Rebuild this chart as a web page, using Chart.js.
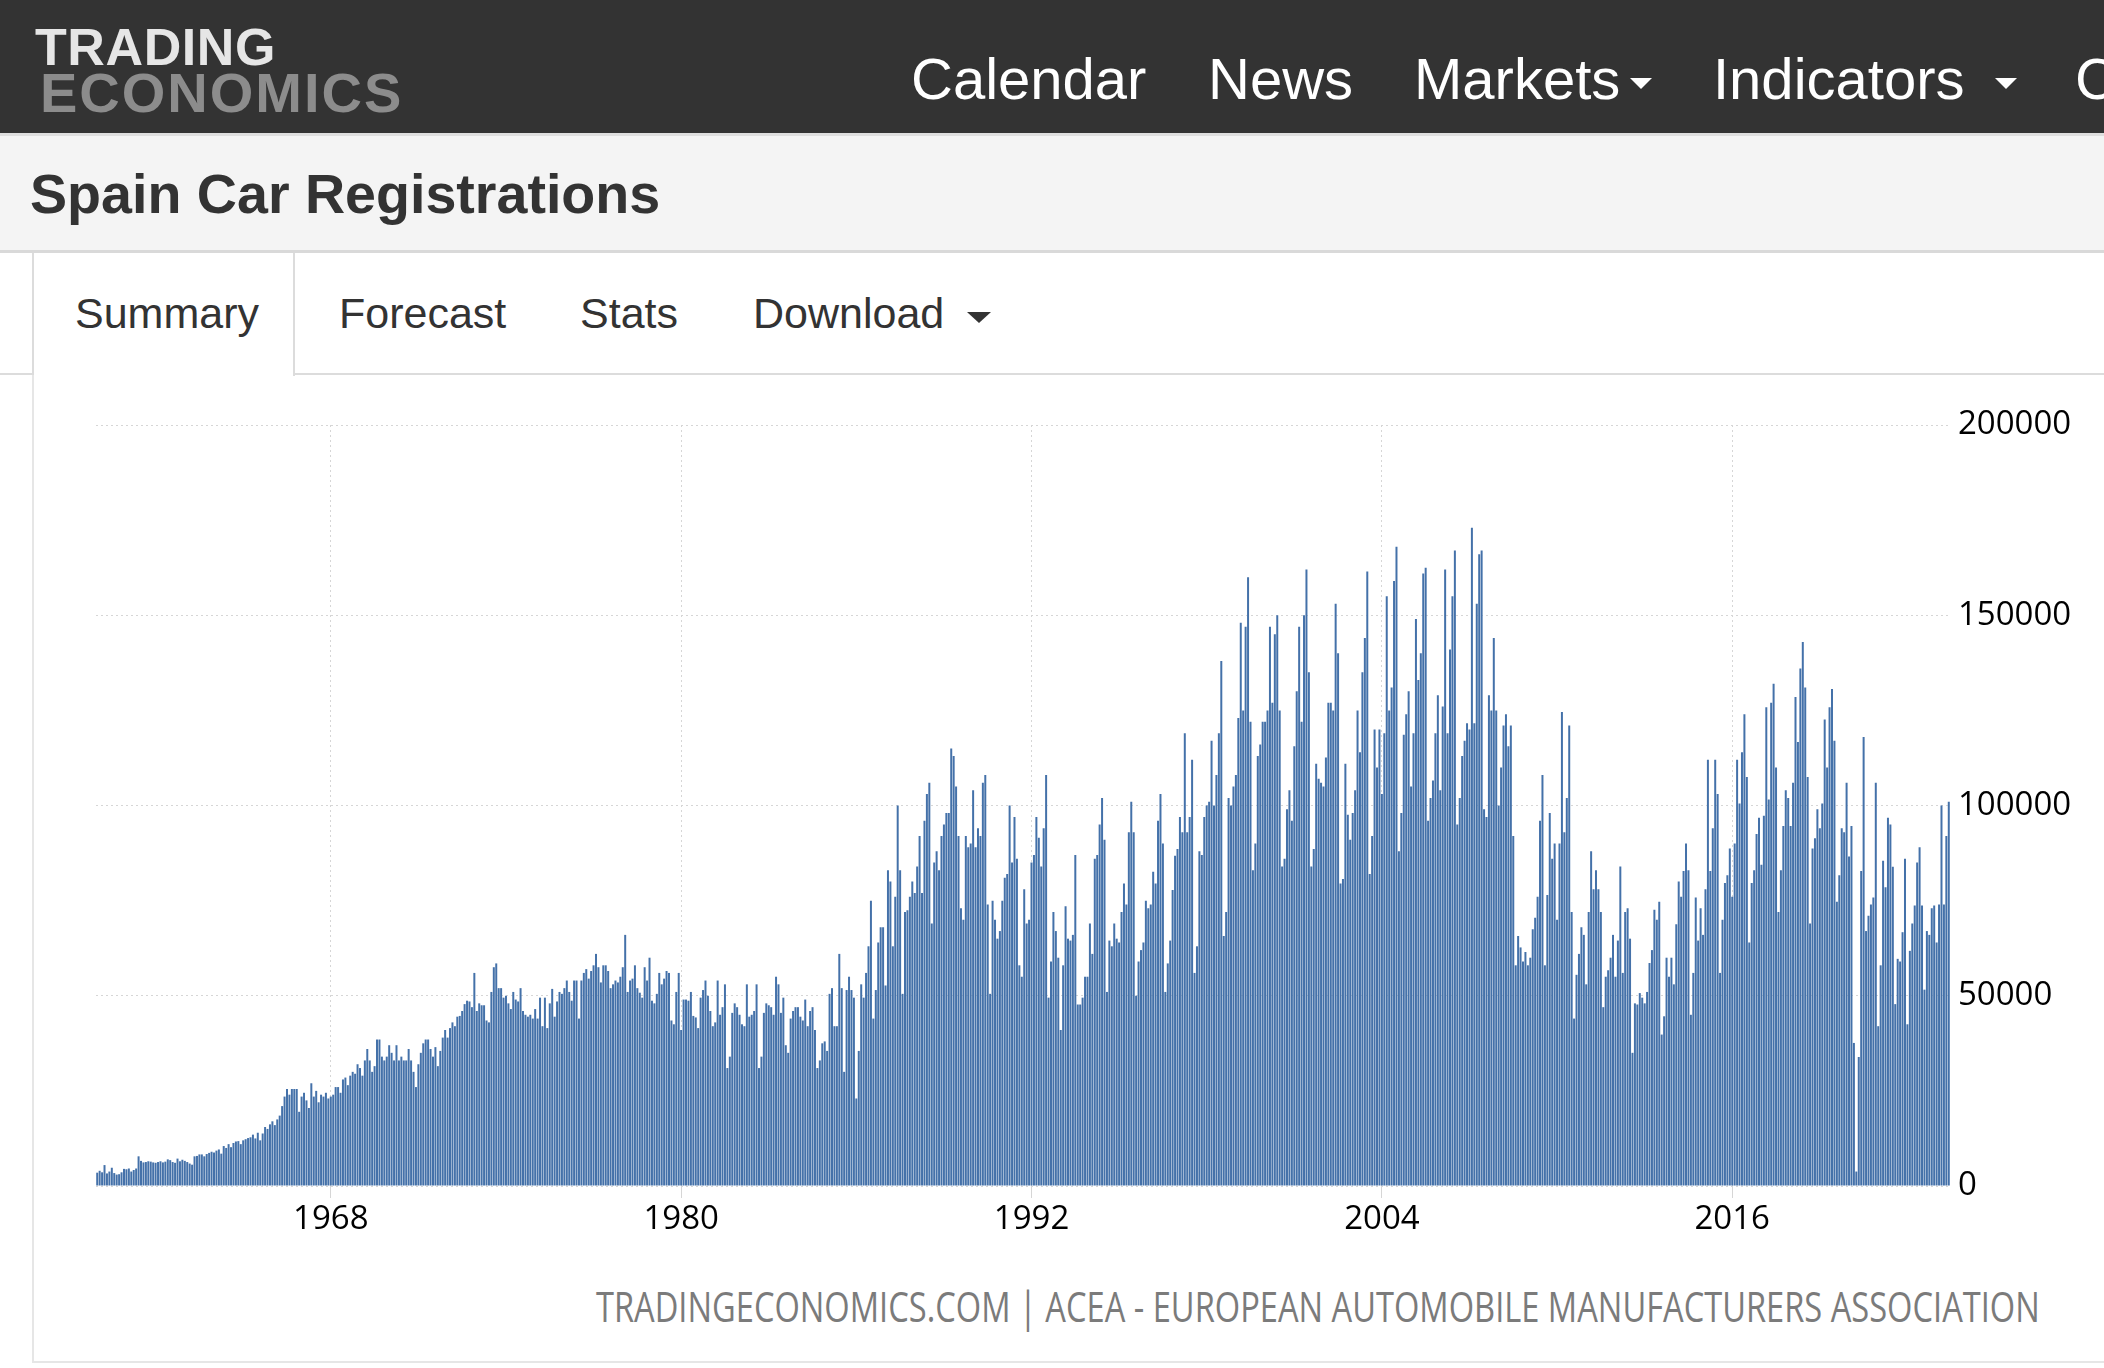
<!DOCTYPE html>
<html>
<head>
<meta charset="utf-8">
<title>Spain Car Registrations</title>
<script src="https://cdn.jsdelivr.net/npm/chart.js@4.4.1/dist/chart.umd.min.js"></script>
<style>
  html, body { margin: 0; padding: 0; }
  body { width: 2104px; height: 1368px; overflow: hidden; background: #fff; position: relative;
         font-family: "Liberation Sans", Arial, Helvetica, sans-serif; }
  .abs { position: absolute; line-height: 1; white-space: nowrap; }
  #nav { position: absolute; left: 0; top: 0; width: 2104px; height: 133px; background: #333; }
  #band { position: absolute; left: 0; top: 133px; width: 2104px; background: #f4f4f4;
          border-top: 3px solid #dedede; border-bottom: 3px solid #d9d9d9; box-sizing: border-box; height: 120px; }
  .logo1 { left: 35px; top: 21px; font-size: 52px; font-weight: bold; color: #e6e6e6; letter-spacing: 0.6px; }
  .logo2 { left: 40px; top: 65px; font-size: 56px; font-weight: bold; color: #8c8c8c; letter-spacing: 2px; }
  .navitem { top: 50px; font-size: 58px; color: #fff; }
  .caret { position: absolute; width: 0; height: 0; border-left: 11px solid transparent;
           border-right: 11px solid transparent; border-top: 11px solid #fff; }
  .title { left: 30px; top: 167px; font-size: 55.6px; font-weight: bold; color: #333; }
  #tabline { position: absolute; left: 0; top: 373px; width: 2104px; height: 2px; background: #dcdcdc; }
  #tab { position: absolute; left: 32px; top: 253px; width: 263px; height: 123px; background: #fff;
         border-left: 2px solid #dcdcdc; border-right: 2px solid #dcdcdc; box-sizing: border-box; }
  .tabtxt { top: 292px; font-size: 43px; color: #333; }
  #panel { position: absolute; left: 32px; top: 375px; width: 2072px; height: 988px;
           border-left: 2px solid #e6e6e6; border-bottom: 2px solid #e6e6e6; box-sizing: border-box; }
  #chartBox { position: absolute; left: 40px; top: 384px; width: 2064px; height: 880px; }
  #source { position: absolute; right: 64px; top: 1285px; font-family: "Open Sans", sans-serif; font-size: 42px;
            line-height: 1; color: #7b7b7b; white-space: nowrap; transform-origin: right top; }
</style>
</head>
<body>
<div id="nav"></div>
<div class="abs logo1">TRADING</div>
<div class="abs logo2">ECONOMICS</div>
<div class="abs navitem" style="left:911px">Calendar</div>
<div class="abs navitem" style="left:1208px">News</div>
<div class="abs navitem" style="left:1414px">Markets</div>
<div class="caret" style="left:1630px; top:78px"></div>
<div class="abs navitem" style="left:1713px">Indicators</div>
<div class="caret" style="left:1995px; top:78px"></div>
<div class="abs navitem" style="left:2075px">Countries</div>

<div id="band"></div>
<div class="abs title">Spain Car Registrations</div>

<div id="tabline"></div>
<div id="tab"></div>
<div class="abs tabtxt" style="left:75px">Summary</div>
<div class="abs tabtxt" style="left:339px">Forecast</div>
<div class="abs tabtxt" style="left:580px">Stats</div>
<div class="abs tabtxt" style="left:753px">Download</div>
<div class="caret" style="left:967px; top:312px; border-top-color:#333; border-left-width:12px; border-right-width:12px"></div>

<div id="panel"></div>
<div id="chartBox"><canvas id="regChart" width="2064" height="880"></canvas></div>
<div id="source">TRADINGECONOMICS.COM | ACEA - EUROPEAN AUTOMOBILE MANUFACTURERS ASSOCIATION</div>

<script>
// monthly car registrations, Jan 1960 .. Jun 2023 (one line per year)
var startYear = 1960
var regs1960s = [
    3500, 4000, 3600, 5500, 3300, 3800, 4800, 3400, 3000, 3100, 3600, 4500,
    4400, 4600, 3800, 4200, 4600, 7800, 6600, 6200, 6300, 6500, 6400, 6200,
    6100, 6300, 6500, 6200, 6400, 7000, 6800, 6300, 6100, 7200, 6500, 6900,
    6600, 6300, 5900, 5600, 7800, 7900, 8300, 8300, 7800, 8400, 8700, 9000,
    8800, 9300, 9600, 8500, 10500, 10000, 11000, 10200, 11300, 11700, 11800, 11000,
    12000, 12300, 12600, 12800, 13500, 12500, 14000, 12000, 13800, 15500, 15000, 16200,
    17000, 16000, 17500, 18500, 21000, 23500, 25500, 24000, 25500, 25500, 25500, 19500,
    23500, 24500, 22500, 20500, 27000, 23500, 25000, 22000, 24000, 23500, 24500, 23000,
    23500, 24000, 26000, 26000, 24500, 28000, 28500, 26500, 29000, 30000, 29500, 32000,
    31000, 29000, 33000, 36000, 33000, 30000, 31500, 38500, 38500, 34000, 33000, 34000
]
var regs1970s = [
    37000, 35000, 33000, 37000, 33000, 34000, 33000, 33000, 36000, 33000, 30000, 26000,
    32000, 35000, 37500, 38500, 38500, 36000, 34000, 36500, 31500, 35500, 39000, 41000,
    39000, 41500, 43000, 42000, 44500, 44700, 46000, 47800, 48700, 48500, 47000, 56000,
    46000, 48000, 47500, 47500, 43500, 43000, 51000, 57500, 58500, 52000, 52000, 49500,
    50000, 48000, 46500, 51000, 49000, 48500, 52000, 46000, 45000, 44500, 45000, 44000,
    46500, 44000, 49500, 42000, 49500, 41500, 48000, 51800, 44500, 48500, 51000, 50500,
    52000, 54000, 51000, 48700, 54000, 54000, 44000, 54000, 56000, 57000, 54500, 56500,
    58000, 61000, 57500, 53500, 58000, 58000, 56500, 52000, 53000, 54000, 53500, 55000,
    57500, 66000, 51000, 54000, 54500, 58000, 52000, 50800, 49500, 57500, 54000, 60000,
    48700, 48000, 50500, 56000, 53000, 54500, 56500, 56000, 43500, 42500, 51000, 56000
]
var regs1980s = [
    41000, 49000, 49000, 48700, 51000, 44700, 44300, 41500, 49500, 51500, 54000, 50000,
    46000, 42000, 43000, 54000, 45000, 47000, 53000, 31000, 34000, 45500, 48000, 47000,
    45000, 42500, 42000, 53000, 44500, 45000, 46000, 53000, 31000, 34000, 45500, 48000,
    47500, 47000, 45000, 55000, 53000, 45500, 49500, 37000, 35000, 44000, 46000, 47000,
    47000, 44500, 43500, 49000, 42000, 46000, 47000, 41000, 31000, 33000, 37500, 38000,
    35500, 50500, 52000, 42000, 42000, 61000, 52000, 30000, 51500, 55000, 51500, 49500,
    23000, 35500, 53000, 49500, 56000, 63000, 75000, 44000, 51500, 64000, 68000, 68000,
    52700, 83000, 80000, 63000, 76000, 100000, 83000, 50500, 72000, 72500, 76000, 80000,
    77000, 84000, 92000, 77000, 96000, 103000, 106000, 69000, 85000, 88000, 83000, 92000,
    95000, 98000, 98000, 115000, 113000, 105000, 92000, 73000, 70000, 92000, 89000, 90000
]
var regs1990s = [
    104000, 89000, 94000, 92000, 106000, 108000, 74000, 50500, 75000, 70000, 65000, 67000,
    75000, 81000, 82000, 100000, 85000, 97000, 86000, 58000, 55000, 78000, 69000, 70000,
    85000, 87000, 97000, 91500, 84000, 94000, 108000, 49500, 59000, 72000, 67000, 60000,
    41000, 58000, 73500, 65000, 64500, 66000, 87000, 47700, 47700, 49500, 55000, 55000,
    69000, 61000, 86000, 87000, 95000, 102000, 91000, 51000, 64500, 63000, 69000, 65000,
    64000, 72000, 79500, 74000, 93000, 101000, 93000, 50000, 59000, 62000, 64000, 75000,
    73000, 74000, 82600, 79500, 96000, 103000, 90000, 51000, 58500, 64500, 77800, 86800,
    88600, 97000, 93000, 119000, 93000, 97000, 112000, 56000, 63000, 88000, 87000, 97000,
    100000, 101000, 117000, 100000, 108000, 119000, 138000, 65700, 72000, 102000, 100000, 105000,
    108000, 123000, 148000, 125000, 147000, 160000, 122000, 83000, 90000, 113000, 116000, 122000
]
var regs2000s = [
    122000, 125000, 147000, 127000, 145000, 150000, 125000, 84000, 86000, 99000, 104000, 96000,
    115600, 130000, 147000, 122000, 150000, 162000, 135000, 84000, 88600, 111000, 107000, 106000,
    105000, 112600, 127000, 127000, 125000, 153000, 140000, 79500, 80700, 111000, 97600, 91000,
    98000, 104000, 125000, 114000, 135000, 144000, 161500, 82000, 92000, 120000, 110000, 120000,
    103000, 119000, 155000, 125000, 131000, 159000, 168000, 88000, 98000, 118600, 124000, 130000,
    105000, 119000, 149000, 133000, 140000, 161000, 162500, 96000, 102000, 106600, 119000, 129000,
    104000, 126000, 162000, 119000, 141000, 155000, 167000, 95000, 102000, 113000, 117000, 121600,
    120000, 173000, 121600, 153000, 166000, 167000, 99000, 97000, 129000, 125000, 144000, 125000,
    100000, 110000, 121000, 124000, 115600, 121000, 92000, 58000, 65700, 62700, 59000, 61500,
    58000, 60000, 67500, 70500, 76000, 96000, 108000, 58000, 76500, 98000, 86000, 90000
]
var regs2010s = [
    70000, 90000, 124600, 93000, 102000, 121000, 72000, 44000, 55500, 61000, 68000, 66000,
    53000, 72000, 88000, 78000, 83000, 78000, 72000, 47000, 55000, 56700, 60000, 66000,
    55000, 64500, 84000, 56000, 72000, 73000, 65000, 35000, 48000, 47700, 50700, 49500,
    48000, 51000, 58600, 62000, 72600, 70000, 74700, 39800, 44600, 60000, 55000, 60000,
    53000, 68800, 80000, 76000, 82800, 90000, 83000, 45000, 56000, 75800, 64500, 73000,
    66000, 78000, 112000, 82800, 94000, 112000, 103000, 56000, 70000, 79600, 81700, 88700,
    76000, 90000, 112000, 100500, 114000, 124000, 107500, 64000, 79600, 83000, 92500, 96800,
    84400, 97300, 125800, 101600, 127000, 132000, 110000, 72000, 83000, 94600, 104000, 102000,
    94600, 106000, 128500, 116700, 136000, 143000, 131000, 107500, 69000, 88700, 91400, 99000,
    94000, 100500, 122600, 110000, 125800, 130600, 117000, 74700, 81700, 94000, 93000, 106000
]
var regs2020s = [
    86600, 94600, 37600, 3800, 33900, 82800, 118000, 67000, 71000, 74000, 75800, 106000,
    42000, 58000, 85500, 78500, 96800, 95000, 83900, 47800, 59700, 59000, 66700, 86000,
    42500, 61800, 69000, 73700, 85000, 89000, 73700, 51600, 67000, 66000, 73000, 73700,
    64000, 74000, 100000, 74000, 92000, 101000
]
var tickYears = [1968, 1980, 1992, 2004, 2016]
var yTicks = [0, 50000, 100000, 150000, 200000]

var regs = [].concat(regs1960s, regs1970s, regs1980s, regs1990s, regs2000s, regs2010s, regs2020s)
var labels = []
regs.forEach(function (v, i) {
    var yr = startYear + Math.floor(i / 12)
    labels.push(yr + "-" + (i % 12 + 1))
})

var tickFont = { family: "Open Sans", size: 33 }

window.regChart = new Chart(document.getElementById("regChart").getContext("2d"), {
    type: "bar",
    data: {
        labels: labels,
        datasets: [{
            label: "Car Registrations",
            data: regs,
            backgroundColor: "#4471a9",
            borderWidth: 0,
            barPercentage: 0.82,
            categoryPercentage: 1,
        }],
    },
    options: {
        responsive: false,
        animation: false,
        layout: { padding: { left: 56, right: 34, top: 41, bottom: 0 } },
        plugins: { legend: { display: false }, tooltip: { enabled: false } },
        scales: {
            x: {
                offset: true,
                grid: { offset: false, color: "#d6d6d6", lineWidth: 1, tickLength: 12 },
                border: { display: false, dash: [2, 3] },
                ticks: {
                    autoSkip: false, maxRotation: 0, minRotation: 0, padding: 2,
                    font: tickFont, color: "#000",
                    callback: function (val) {
                        var lab = this.getLabelForValue(val).split("-")
                        var yr = parseInt(lab[0]), m = parseInt(lab[1])
                        if (m == 1 && tickYears.indexOf(yr) >= 0) return String(yr)
                        return null
                    },
                },
                afterFit: function (s) { s.height = 78 },
            },
            y: {
                position: "right",
                min: yTicks[0],
                max: yTicks[yTicks.length - 1],
                grid: { color: "#d6d6d6", drawTicks: false },
                border: { display: false, dash: [2, 3] },
                afterBuildTicks: function (s) { s.ticks = yTicks.map(function (v) { return { value: v } }) },
                ticks: {
                    padding: 8, font: tickFont, color: "#000",
                    callback: function (v) { return String(v) },
                },
                afterFit: function (s) { s.width = 120 },
            },
        },
    },
})

// squeeze the source line into its narrow width
var src = document.getElementById("source")
src.style.transform = "scaleX(" + (1444 / src.offsetWidth) + ")"
</script>
</body>
</html>
